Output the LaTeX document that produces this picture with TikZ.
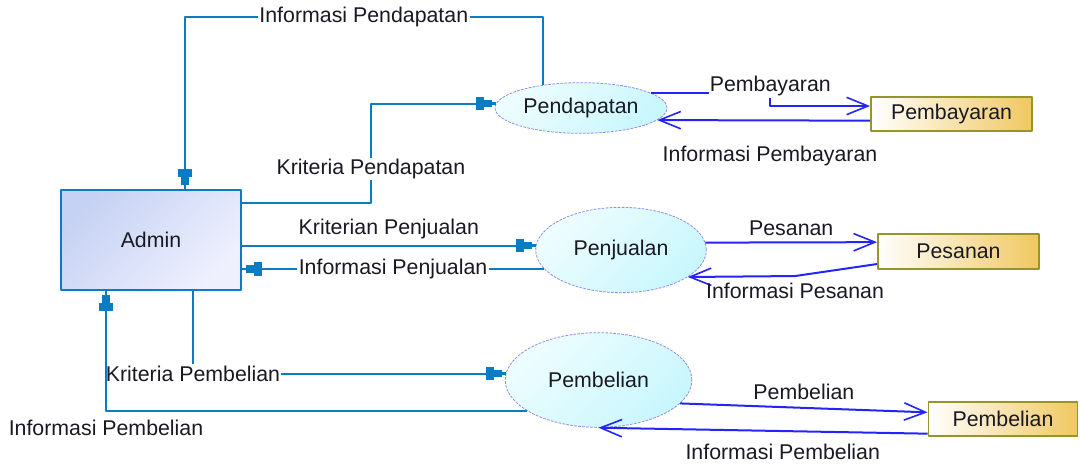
\documentclass[tikz,border=0pt]{standalone}
\usepackage{fontspec}
\setmainfont{Liberation Sans}
\usetikzlibrary{arrows.meta,shapes.geometric}
\definecolor{flow}{RGB}{10,124,196}
\definecolor{data}{RGB}{36,36,250}
\definecolor{txt}{RGB}{25,25,35}
\definecolor{rim}{RGB}{140,140,235}
\definecolor{gold}{RGB}{240,200,96}
\definecolor{olive}{RGB}{150,150,40}
\definecolor{admA}{RGB}{198,210,244}
\definecolor{admB}{RGB}{238,240,253}
\definecolor{procA}{RGB}{238,253,255}
\definecolor{procB}{RGB}{200,247,253}
\begin{document}
\begin{tikzpicture}[x=0.75pt, y=-0.75pt, font=\fontsize{16}{19}\selectfont, line join=round, text=txt,
	blk/.tip={Rectangle[length=6pt,width=10pt]Rectangle[length=6pt,width=5.5pt]Rectangle[length=3pt,width=1.6pt]},
	>={Straight Barb[length=16pt,width=13pt,line width=1.2pt]},
	entity/.style={rectangle, draw=flow, line width=1.4pt, inner sep=0pt, left color=admA, right color=admB, shading angle=45},
	proc/.style={ellipse, draw=rim, line width=0.6pt, dash pattern=on 2pt off 1pt, inner sep=0pt, left color=procA, right color=procB, shading angle=45},
	store/.style={rectangle, draw=olive, line width=1.2pt, inner sep=0pt, left color=white, right color=gold},
	flowline/.style={draw=flow, line width=1.5pt},
	dataline/.style={draw=data, line width=1.5pt},
	lbl/.style={fill=white, inner sep=1pt}]
	\useasboundingbox (0,0) rectangle (1080,467);
	\node[entity, minimum width=135pt, minimum height=75pt] (admin) at (151,240) {Admin};
	\node[proc, minimum width=129pt, minimum height=38pt] (pendapatan) at (581,108) {Pendapatan};
	\node[proc, minimum width=128pt, minimum height=64pt] (penjualan) at (621,250) {Penjualan};
	\node[proc, minimum width=140pt, minimum height=71pt] (pembelian) at (598.5,380) {Pembelian};
	\node[store, minimum width=121pt, minimum height=25.5pt] (bayar) at (951.5,114) {Pembayaran};
	\node[store, minimum width=121pt, minimum height=26pt] (pesan) at (958.5,251.5) {Pesanan};
	\node[store, minimum width=112pt, minimum height=25.5pt] (beli) at (1003,419) {Pembelian};
	\draw[flowline, -{blk}] (pendapatan.149) -- ++(0,-68) -| node[lbl, pos=0.25]{Informasi Pendapatan} ([xshift=25.5pt]admin.north);
	\draw[flowline, -{blk}] ([yshift=27.75pt]admin.east) -- ++(129,0) |- node[lbl, pos=0.17]{Kriteria Pendapatan} (pendapatan.177);
	\draw[flowline, -{blk}] (admin.east |- penjualan.177) -- node[above=1pt]{Kriterian Penjualan} (penjualan.177);
	\draw[flowline, -{blk}] (penjualan.194) -- node[lbl]{Informasi Penjualan} (admin.east |- penjualan.194);
	\draw[flowline, -{blk}] ([xshift=31.5pt]admin.south) |- node[lbl, pos=0.5]{Kriteria Pembelian} (pembelian.176);
	\draw[flowline, -{blk}] (pembelian.203) -| node[pos=0.5, below=3pt]{Informasi Pembelian} ([xshift=-33.75pt]admin.south);
	\draw[dataline, ->] (pendapatan.12) -- ++(119,0) node[lbl, yshift=5pt]{Pembayaran} |- ([yshift=6pt]bayar.west);
	\draw[dataline, ->] ([yshift=-5pt]bayar.west) -- node[pos=0.47, below=15.5pt]{Informasi Pembayaran} (pendapatan.351);
	\draw[dataline, ->] (penjualan.5) -- node[above=1pt]{Pesanan} ([yshift=7pt]pesan.west);
	\draw[dataline, ->] ([yshift=-9.4pt]pesan.west) -- ++(-82,12) node[below=1pt]{Informasi Pesanan} -- (penjualan.338);
	\draw[dataline, ->] (pembelian.344) -- node[above=2pt]{Pembelian} ([yshift=5pt]beli.west);
	\draw[dataline, ->] ([yshift=-11pt]beli.west) -- node[pos=0.44, below=6pt]{Informasi Pembelian} (pembelian.south);
\end{tikzpicture}
\end{document}
